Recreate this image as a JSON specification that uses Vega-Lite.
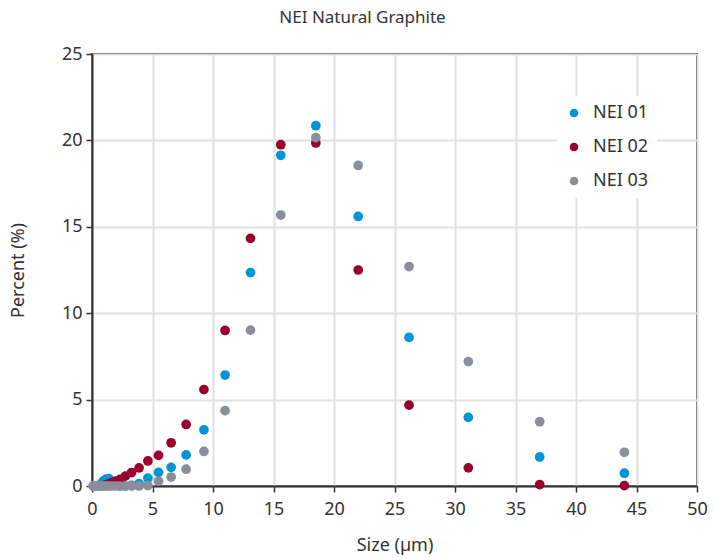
{
  "$schema": "https://vega.github.io/schema/vega-lite/v6.json",
  "width": 605,
  "height": 432,
  "autosize": {"type": "none"},
  "padding": {"left": 92, "top": 54, "right": 17, "bottom": 72},
  "title": {
    "text": "NEI Natural Graphite",
    "fontSize": 17,
    "fontWeight": "normal",
    "font": "Noto Sans",
    "color": "#333333",
    "anchor": "middle",
    "dx": -32,
    "offset": 18
  },
  "config": {
    "font": "Noto Sans",
    "view": {"stroke": "#333333", "strokeWidth": 2},
    "axis": {
      "domainColor": "#333333",
      "domainWidth": 2,
      "tickColor": "#333333",
      "tickWidth": 1.5,
      "tickSize": 6,
      "gridColor": "#e0e0e5",
      "gridWidth": 2,
      "labelFontSize": 18,
      "labelColor": "#333333",
      "labelFlush": false,
      "titleFontSize": 18,
      "titleFontWeight": "normal",
      "titleColor": "#333333"
    }
  },
  "data": {
    "values": [
      {"s": "NEI 01", "x": 44, "y": 0.74},
      {"s": "NEI 01", "x": 37, "y": 1.68},
      {"s": "NEI 01", "x": 31.1, "y": 3.97},
      {"s": "NEI 01", "x": 26.2, "y": 8.6},
      {"s": "NEI 01", "x": 22, "y": 15.6},
      {"s": "NEI 01", "x": 18.5, "y": 20.85},
      {"s": "NEI 01", "x": 15.6, "y": 19.14},
      {"s": "NEI 01", "x": 13.1, "y": 12.35},
      {"s": "NEI 01", "x": 11, "y": 6.42},
      {"s": "NEI 01", "x": 9.25, "y": 3.25},
      {"s": "NEI 01", "x": 7.78, "y": 1.8},
      {"s": "NEI 01", "x": 6.54, "y": 1.08},
      {"s": "NEI 01", "x": 5.5, "y": 0.79},
      {"s": "NEI 01", "x": 4.62, "y": 0.45},
      {"s": "NEI 01", "x": 3.89, "y": 0.14},
      {"s": "NEI 01", "x": 3.27, "y": 0.03},
      {"s": "NEI 01", "x": 2.75, "y": 0.0},
      {"s": "NEI 01", "x": 2.31, "y": 0.0},
      {"s": "NEI 01", "x": 1.94, "y": 0.05},
      {"s": "NEI 01", "x": 1.64, "y": 0.2},
      {"s": "NEI 01", "x": 1.38, "y": 0.42},
      {"s": "NEI 01", "x": 1.16, "y": 0.4},
      {"s": "NEI 01", "x": 0.97, "y": 0.3},
      {"s": "NEI 01", "x": 0.82, "y": 0.18},
      {"s": "NEI 01", "x": 0.69, "y": 0.08},
      {"s": "NEI 01", "x": 0.58, "y": 0.02},
      {"s": "NEI 01", "x": 0.49, "y": 0.0},
      {"s": "NEI 01", "x": 0.41, "y": 0.0},
      {"s": "NEI 02", "x": 44, "y": 0.02},
      {"s": "NEI 02", "x": 37, "y": 0.08},
      {"s": "NEI 02", "x": 31.1, "y": 1.05},
      {"s": "NEI 02", "x": 26.2, "y": 4.68},
      {"s": "NEI 02", "x": 22, "y": 12.5},
      {"s": "NEI 02", "x": 18.5, "y": 19.85},
      {"s": "NEI 02", "x": 15.6, "y": 19.75},
      {"s": "NEI 02", "x": 13.1, "y": 14.33},
      {"s": "NEI 02", "x": 11, "y": 9.0},
      {"s": "NEI 02", "x": 9.25, "y": 5.58},
      {"s": "NEI 02", "x": 7.78, "y": 3.56},
      {"s": "NEI 02", "x": 6.54, "y": 2.5},
      {"s": "NEI 02", "x": 5.5, "y": 1.77},
      {"s": "NEI 02", "x": 4.62, "y": 1.45},
      {"s": "NEI 02", "x": 3.89, "y": 1.05},
      {"s": "NEI 02", "x": 3.27, "y": 0.78},
      {"s": "NEI 02", "x": 2.75, "y": 0.57},
      {"s": "NEI 02", "x": 2.31, "y": 0.38},
      {"s": "NEI 02", "x": 1.94, "y": 0.28},
      {"s": "NEI 02", "x": 1.64, "y": 0.2},
      {"s": "NEI 02", "x": 1.38, "y": 0.12},
      {"s": "NEI 02", "x": 1.16, "y": 0.06},
      {"s": "NEI 02", "x": 0.97, "y": 0.02},
      {"s": "NEI 02", "x": 0.82, "y": 0.0},
      {"s": "NEI 03", "x": 44, "y": 1.95},
      {"s": "NEI 03", "x": 37, "y": 3.72},
      {"s": "NEI 03", "x": 31.1, "y": 7.2},
      {"s": "NEI 03", "x": 26.2, "y": 12.7},
      {"s": "NEI 03", "x": 22, "y": 18.55},
      {"s": "NEI 03", "x": 18.5, "y": 20.16},
      {"s": "NEI 03", "x": 15.6, "y": 15.68},
      {"s": "NEI 03", "x": 13.1, "y": 9.02},
      {"s": "NEI 03", "x": 11, "y": 4.36},
      {"s": "NEI 03", "x": 9.25, "y": 2.0},
      {"s": "NEI 03", "x": 7.78, "y": 0.97},
      {"s": "NEI 03", "x": 6.54, "y": 0.52},
      {"s": "NEI 03", "x": 5.5, "y": 0.28},
      {"s": "NEI 03", "x": 4.62, "y": 0.02},
      {"s": "NEI 03", "x": 3.89, "y": 0.0},
      {"s": "NEI 03", "x": 3.27, "y": 0.0},
      {"s": "NEI 03", "x": 2.75, "y": 0.0},
      {"s": "NEI 03", "x": 2.31, "y": 0.0},
      {"s": "NEI 03", "x": 1.94, "y": 0.0},
      {"s": "NEI 03", "x": 1.64, "y": 0.0},
      {"s": "NEI 03", "x": 1.38, "y": 0.0},
      {"s": "NEI 03", "x": 1.16, "y": 0.0},
      {"s": "NEI 03", "x": 0.97, "y": 0.0},
      {"s": "NEI 03", "x": 0.82, "y": 0.0},
      {"s": "NEI 03", "x": 0.69, "y": 0.0},
      {"s": "NEI 03", "x": 0.58, "y": 0.0},
      {"s": "NEI 03", "x": 0.49, "y": 0.0},
      {"s": "NEI 03", "x": 0.41, "y": 0.0},
      {"s": "NEI 03", "x": 0.35, "y": 0.0},
      {"s": "NEI 03", "x": 0.29, "y": 0.0},
      {"s": "NEI 03", "x": 0.24, "y": 0.0},
      {"s": "NEI 03", "x": 0.2, "y": 0.0},
      {"s": "NEI 03", "x": 0.17, "y": 0.0},
      {"s": "NEI 03", "x": 0.14, "y": 0.0},
      {"s": "NEI 03", "x": 0.12, "y": 0.0},
      {"s": "NEI 03", "x": 0.1, "y": 0.0}
    ]
  },
  "mark": {"type": "point", "filled": true, "shape": "circle", "size": 95, "opacity": 1, "clip": false},
  "encoding": {
    "x": {
      "field": "x",
      "type": "quantitative",
      "title": "Size (µm)",
      "scale": {"domain": [0, 50], "nice": false, "zero": false},
      "axis": {"values": [0, 5, 10, 15, 20, 25, 30, 35, 40, 45, 50], "labelPadding": 8, "titlePadding": 18}
    },
    "y": {
      "field": "y",
      "type": "quantitative",
      "title": "Percent (%)",
      "scale": {"domain": [0, 25], "nice": false},
      "axis": {"values": [0, 5, 10, 15, 20, 25], "labelPadding": 4, "titlePadding": 34}
    },
    "color": {
      "field": "s",
      "type": "nominal",
      "scale": {"domain": ["NEI 01", "NEI 02", "NEI 03"], "range": ["#0096d6", "#98002e", "#8a8e9a"]},
      "legend": {
        "title": null,
        "orient": "none",
        "legendX": 465,
        "legendY": 42,
        "fillColor": "white",
        "padding": 8,
        "labelFontSize": 18,
        "labelColor": "#333333",
        "symbolSize": 75,
        "symbolType": "circle",
        "rowPadding": 16,
        "labelOffset": 10
      }
    },
    "order": {"field": "s", "type": "nominal"}
  }
}
